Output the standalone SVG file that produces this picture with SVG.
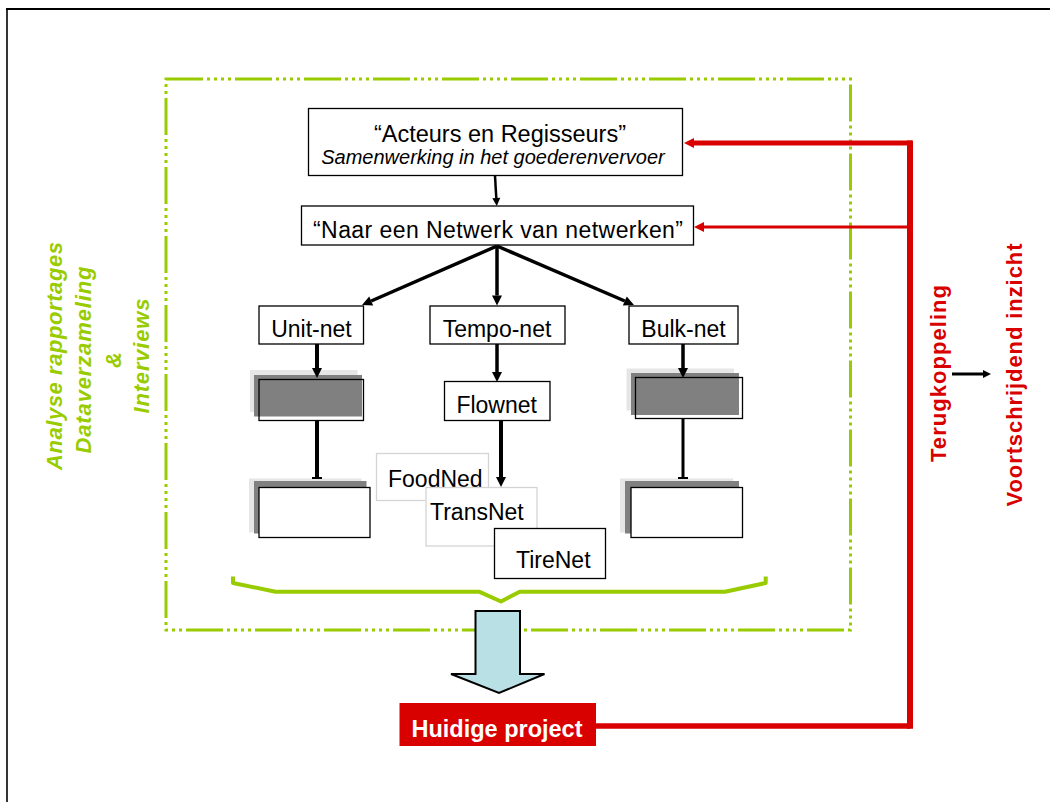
<svg xmlns="http://www.w3.org/2000/svg" width="1050" height="802" viewBox="0 0 1050 802">
<defs>
<style>
.box{fill:#fff;stroke:#000;stroke-width:1.3}
.ghost{fill:#fff;stroke:#d4d4d4;stroke-width:1.3}
.lg{fill:#e6e6e6}
.dg{fill:#808080}
.outl{fill:none;stroke:#000;stroke-width:1.3}
.t{font-family:"Liberation Sans",Arial,sans-serif;font-size:23px;fill:#000}
.title{font-size:23.5px}
.sub{font-size:20px;font-style:italic}
.green{font-family:"Liberation Sans",Arial,sans-serif;font-size:22px;font-weight:bold;font-style:italic;fill:#99cc00}
.red{font-family:"Liberation Sans",Arial,sans-serif;font-size:22px;font-weight:bold;fill:#d90000}
.bl{stroke:#000;fill:none}
.rl{stroke:#d90000;fill:none}
</style>
<marker id="ah" markerUnits="userSpaceOnUse" markerWidth="10" markerHeight="10" refX="0" refY="5" orient="auto" overflow="visible"><path d="M0,0 L10,5 L0,10 z" fill="#000"/></marker>
<marker id="ahs" markerUnits="userSpaceOnUse" markerWidth="8" markerHeight="8" refX="0" refY="4" orient="auto" overflow="visible"><path d="M0,0 L8,4 L0,8 z" fill="#000"/></marker>
<marker id="tee" markerUnits="userSpaceOnUse" markerWidth="2" markerHeight="10" refX="1" refY="5" orient="auto" overflow="visible"><rect x="0" y="0" width="2" height="10" fill="#000"/></marker>
<marker id="rh" markerUnits="userSpaceOnUse" markerWidth="10" markerHeight="10" refX="0" refY="5" orient="auto" overflow="visible"><path d="M0,0 L10,5 L0,10 z" fill="#d90000"/></marker>
</defs>

<!-- frame -->
<g id="frame">
<line x1="6" y1="9" x2="1050" y2="9" stroke="#000" stroke-width="2.2"/>
<line x1="7" y1="8" x2="7" y2="802" stroke="#000" stroke-width="1.6"/>
</g>

<!-- green dotted boundary -->
<g id="scope">
<rect x="166" y="79" width="684.5" height="551" fill="none" stroke="#99cc00" stroke-width="3" stroke-dasharray="37 4 3 4 3 4 3 4 3 4"/>
</g>

<!-- side labels -->
<g id="green-labels">
<text class="green" transform="translate(62,356) rotate(-90)" text-anchor="middle" textLength="228" lengthAdjust="spacing">Analyse rapportages</text>
<text class="green" transform="translate(91,360) rotate(-90)" text-anchor="middle" textLength="187" lengthAdjust="spacing">Dataverzameling</text>
<text class="green" transform="translate(121,360) rotate(-90)" text-anchor="middle">&amp;</text>
<text class="green" transform="translate(149,356) rotate(-90)" text-anchor="middle" textLength="115" lengthAdjust="spacing">Interviews</text>
</g>

<g id="red-labels">
<text class="red" transform="translate(946,373.5) rotate(-90)" text-anchor="middle" textLength="177" lengthAdjust="spacing">Terugkoppeling</text>
<text class="red" transform="translate(1021.5,375) rotate(-90)" text-anchor="middle" textLength="263" lengthAdjust="spacing">Voortschrijdend inzicht</text>
</g>

<!-- nodes -->
<g id="n-acteurs">
<rect class="box" x="308.5" y="108.5" width="374" height="67"/>
<text class="t title" x="500" y="141.5" text-anchor="middle">“Acteurs en Regisseurs”</text>
<text class="t sub" x="493" y="164" text-anchor="middle">Samenwerking in het goederenvervoer</text>
</g>

<g id="n-netwerk">
<rect class="box" x="301.5" y="206" width="392" height="39"/>
<text class="t" x="498" y="238" text-anchor="middle" textLength="370" lengthAdjust="spacing">“Naar een Netwerk van netwerken”</text>
</g>

<g id="n-unit">
<rect class="box" x="259" y="306" width="104.5" height="38"/>
<text class="t" x="311.5" y="337" text-anchor="middle">Unit-net</text>
</g>
<g id="n-tempo">
<rect class="box" x="430" y="306" width="135" height="38"/>
<text class="t" x="497" y="337" text-anchor="middle">Tempo-net</text>
</g>
<g id="n-bulk">
<rect class="box" x="629" y="306" width="109" height="38"/>
<text class="t" x="683.5" y="337" text-anchor="middle">Bulk-net</text>
</g>

<g id="n-unit-2">
<rect class="lg" x="250" y="370" width="107.5" height="42"/>
<rect class="dg" x="254" y="375" width="108" height="41.5"/>
<rect class="outl" x="259" y="379.5" width="104.5" height="41"/>
</g>
<g id="n-bulk-2">
<rect class="lg" x="626.5" y="368.5" width="107.5" height="42"/>
<rect class="dg" x="631" y="373" width="108" height="42"/>
<rect class="outl" x="635.5" y="377.5" width="107" height="41"/>
</g>

<g id="n-flownet">
<rect class="box" x="444.5" y="381.5" width="105.5" height="39"/>
<text class="t" x="496.7" y="413" text-anchor="middle">Flownet</text>
</g>

<g id="n-unit-3">
<rect class="lg" x="249" y="478.5" width="112.5" height="54"/>
<rect class="dg" x="254" y="481" width="112.5" height="52.5"/>
<rect class="box" x="259" y="487.5" width="111" height="50"/>
</g>
<g id="n-bulk-3">
<rect class="lg" x="620" y="478.5" width="113" height="54"/>
<rect class="dg" x="625" y="481" width="114" height="52.5"/>
<rect class="box" x="631" y="487.5" width="111.5" height="50"/>
</g>

<g id="n-foodned">
<rect class="ghost" x="376.5" y="453.5" width="112" height="47"/>
<text class="t" x="388" y="487">FoodNed</text>
</g>
<g id="n-transnet">
<rect class="ghost" x="426" y="487.5" width="111" height="58.5"/>
<text class="t" x="430" y="519.5">TransNet</text>
</g>
<g id="n-tirenet">
<rect class="box" x="494.5" y="528.5" width="111" height="50"/>
<text class="t" x="516" y="568">TireNet</text>
</g>

<!-- brace -->
<g id="brace">
<path d="M233,576.5 V583 L275.5,591.7 H479 L501,601.5 L519.7,591.7 H725 L765.7,583 V576.5" fill="none" stroke="#99cc00" stroke-width="4" stroke-linejoin="round"/>
</g>

<!-- big arrow -->
<g id="big-arrow">
<path d="M475.5,611 H520 V674 H544.5 L499,693 L451,674 H475.5 Z" fill="#b9e0e4" stroke="#000" stroke-width="2" stroke-linejoin="miter"/>
</g>

<g id="n-huidige">
<rect x="399.5" y="703" width="196.5" height="43" fill="#d90000"/>
<text x="497" y="736.5" text-anchor="middle" font-family="'Liberation Sans',Arial,sans-serif" font-size="23.5" font-weight="bold" fill="#fff">Huidige project</text>
</g>

<!-- connectors -->
<g id="connectors">
<path class="bl" d="M495,176 L496.3,198" stroke-width="2.5" marker-end="url(#ahs)"/>
<path class="bl" d="M497,246 L371.2,301" stroke-width="3.5" marker-end="url(#ah)"/>
<path class="bl" d="M497,246 L497,295.5" stroke-width="3.5" marker-end="url(#ah)"/>
<path class="bl" d="M497,246 L624.8,301" stroke-width="3.5" marker-end="url(#ah)"/>
<path class="bl" d="M317,344 V368" stroke-width="4" marker-end="url(#ah)"/>
<path class="bl" d="M497,344 V372" stroke-width="3.5" marker-end="url(#ah)"/>
<path class="bl" d="M683,344 V368" stroke-width="3.5" marker-end="url(#ah)"/>
<path class="bl" d="M501,420.5 V477" stroke-width="4" marker-end="url(#ah)"/>
<path class="bl" d="M317,421 V478" stroke-width="4" marker-end="url(#tee)"/>
<path class="bl" d="M683,419 V478" stroke-width="3" marker-end="url(#tee)"/>
<path class="bl" d="M952,374 H983" stroke-width="3" marker-end="url(#ahs)"/>
<path class="rl" d="M596,726 H910" stroke-width="5.5"/>
<path class="rl" d="M910,728.7 V140.5" stroke-width="6"/>
<path class="rl" d="M912,143 H694" stroke-width="5" marker-end="url(#rh)"/>
<path class="rl" d="M910,227 H704" stroke-width="3" marker-end="url(#rh)"/>
</g>
</svg>
